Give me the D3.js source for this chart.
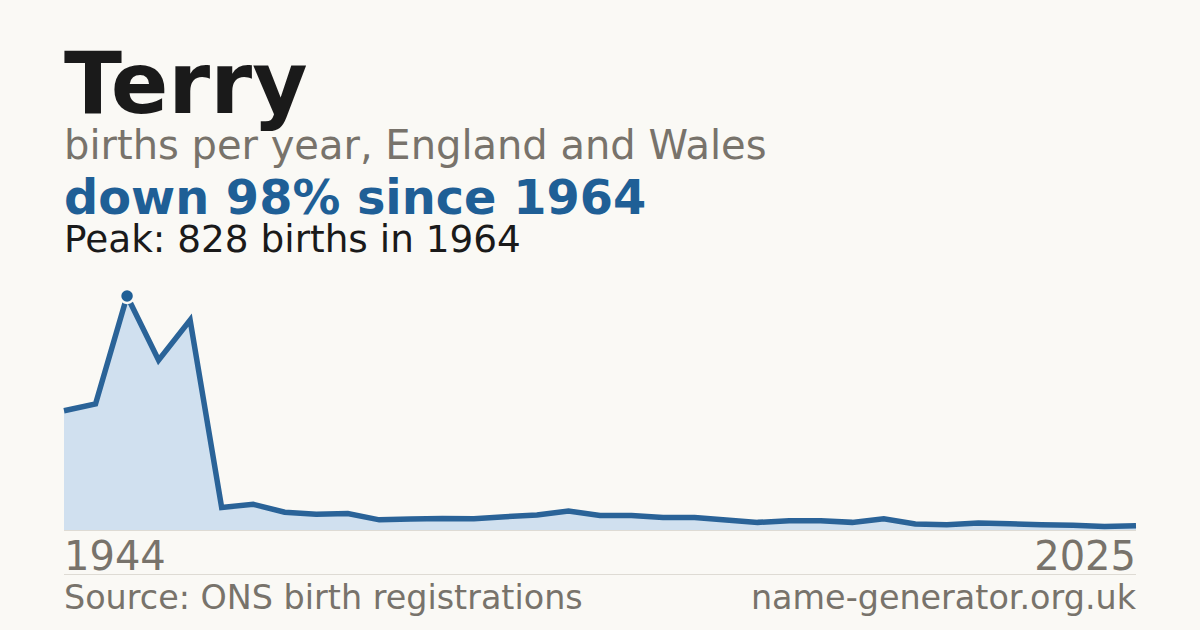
<!DOCTYPE html>
<html><head><meta charset="utf-8">
<script src="https://cdn.jsdelivr.net/npm/d3@7"></script>
<style>html,body{margin:0;padding:0;background:#faf9f5;}svg{display:block;}</style>
</head><body>
<script>
const years = [1944,1954,1964,1974,1984,1996,1997,1998,1999,2000,2001,2002,2003,2004,2005,2006,2007,2008,2009,2010,2011,2012,2013,2014,2015,2016,2017,2018,2019,2020,2021,2022,2023,2024,2025];
const births = [422,446,828,601,743,80,91,63,56,58,36,39,41,40,47,53,67,51,51,44,44,35,27,33,33,27,40,21,19,25,22,19,17,12,15];
const titleText = "Terry";
const subtitleText = "births per year, England and Wales";
const changeText = "down 98% since 1964";
const peakText = "Peak: 828 births in 1964";
const sourceText = "Source: ONS birth registrations";
const siteText = "name-generator.org.uk";

const W = 1200, H = 630;
const font = "DejaVu Sans, sans-serif";
const svg = d3.select("body").append("svg").attr("width", W).attr("height", H);
svg.append("rect").attr("width", W).attr("height", H).attr("fill", "#faf9f5");

const data = years.map((y,i)=>({year:y, v:births[i]}));
const x = d3.scalePoint().domain(years).range([64, 1136]);
const y = d3.scaleLinear().domain([0, d3.max(births)]).range([530, 296]);

svg.append("text").attr("x",64).attr("y",113).attr("font-family",font).attr("font-weight","bold").attr("font-size",85).attr("fill","#1a1a1a").text(titleText);
svg.append("text").attr("x",64).attr("y",159).attr("font-family",font).attr("font-size",40).attr("fill","#78736b").text(subtitleText);
svg.append("text").attr("x",64).attr("y",214).attr("font-family",font).attr("font-weight","bold").attr("font-size",47.8).attr("fill","#1f5f96").text(changeText);
svg.append("text").attr("x",64).attr("y",252).attr("font-family",font).attr("font-size",37.4).attr("fill","#1a1a1a").text(peakText);

const area = d3.area().x(d=>x(d.year)).y0(y(0)).y1(d=>y(d.v));
svg.append("path").datum(data).attr("d", area).attr("fill","#d0e0ef");
svg.append("line").attr("x1",64).attr("x2",1136).attr("y1",y(0)+0.5).attr("y2",y(0)+0.5).attr("stroke","#dedbd4").attr("stroke-width",1);
const line = d3.line().x(d=>x(d.year)).y(d=>y(d.v));
svg.append("path").datum(data).attr("d", line).attr("fill","none").attr("stroke","#2a6398").attr("stroke-width",5.5).attr("stroke-linejoin","miter");

const peak = data.reduce((a,b)=>b.v>a.v?b:a);
svg.append("circle").attr("cx",x(peak.year)).attr("cy",y(peak.v)).attr("r",7).attr("fill","#1f5f96").attr("stroke","#faf9f5").attr("stroke-width",2.5);

svg.append("text").attr("x",64).attr("y",570).attr("font-family",font).attr("font-size",40).attr("fill","#78736b").text(years[0]);
svg.append("text").attr("x",1136).attr("y",570).attr("text-anchor","end").attr("font-family",font).attr("font-size",40).attr("fill","#78736b").text(years[years.length-1]);

svg.append("line").attr("x1",64).attr("x2",1136).attr("y1",574.5).attr("y2",574.5).attr("stroke","#dedbd4").attr("stroke-width",1);
svg.append("text").attr("x",64).attr("y",609).attr("font-family",font).attr("font-size",33.4).attr("fill","#78736b").text(sourceText);
svg.append("text").attr("x",1136).attr("y",609).attr("text-anchor","end").attr("font-family",font).attr("font-size",33.4).attr("fill","#78736b").text(siteText);
</script>
</body></html>
